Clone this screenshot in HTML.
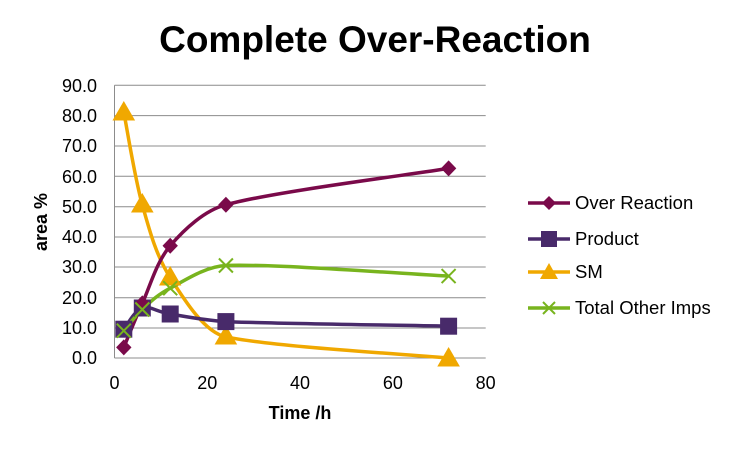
<!DOCTYPE html>
<html><head><style>body{margin:0;background:#fff}svg{display:block}</style></head><body>
<svg width="750" height="451" xmlns="http://www.w3.org/2000/svg" font-family="Liberation Sans, Arial, sans-serif">
<text x="375" y="52" font-size="37" font-weight="bold" text-anchor="middle">Complete Over-Reaction</text>
<g stroke="#8c8c8c" stroke-width="1">
<line x1="114.5" y1="85.3" x2="485.7" y2="85.3"/><line x1="114.5" y1="115.6" x2="485.7" y2="115.6"/><line x1="114.5" y1="146" x2="485.7" y2="146"/><line x1="114.5" y1="176.3" x2="485.7" y2="176.3"/><line x1="114.5" y1="206.7" x2="485.7" y2="206.7"/><line x1="114.5" y1="237" x2="485.7" y2="237"/><line x1="114.5" y1="267" x2="485.7" y2="267"/><line x1="114.5" y1="297.7" x2="485.7" y2="297.7"/><line x1="114.5" y1="328" x2="485.7" y2="328"/><line x1="114.5" y1="358" x2="485.7" y2="358"/>
<line x1="114.5" y1="85.3" x2="114.5" y2="358"/>
</g>
<g font-size="18" text-anchor="end">
<text x="97" y="92">90.0</text><text x="97" y="122">80.0</text><text x="97" y="152">70.0</text><text x="97" y="183">60.0</text><text x="97" y="213">50.0</text><text x="97" y="243">40.0</text><text x="97" y="273">30.0</text><text x="97" y="304">20.0</text><text x="97" y="334">10.0</text><text x="97" y="364">0.0</text>
</g>
<g font-size="18" text-anchor="middle">
<text x="114.5" y="389">0</text><text x="207.3" y="389">20</text><text x="300" y="389">40</text><text x="392.9" y="389">60</text><text x="485.7" y="389">80</text>
</g>
<text x="300" y="419" font-size="18" font-weight="bold" text-anchor="middle">Time /h</text>
<text transform="translate(47,222) rotate(-90)" font-size="18" font-weight="bold" text-anchor="middle">area %</text>
<g fill="none" stroke-width="3.5">
<path stroke="#f0a800" d="M123.8,112.3 C126.9,127.7 134.6,177.2 142.3,204.8 C150,232.4 156.3,255.6 170.2,277.6 C184.1,299.6 205,333 225.9,336.8 C272,346.8 411.5,354.5 448.6,358"/>
<path stroke="#482a6a" d="M123.8,329.2 C126.9,325.7 134.6,310.5 142.3,308 C150,305.5 156.3,311.7 170.2,314 C184.1,316.3 205,320.5 225.9,321.6 C272,323.6 411.5,325.4 448.6,326.2"/>
<path stroke="#7a0a4a" d="M123.8,347.4 C126.9,340.1 134.6,320.3 142.3,303.4 C150,286.5 156.3,262.2 170.2,245.8 C184.1,229.4 205,210 225.9,204.8 C272,191.9 411.5,174.5 448.6,168.4"/>
<path stroke="#78b41e" d="M123.8,330.7 C126.9,327.2 134.6,316.6 142.3,309.5 C150,302.4 156.3,295.5 170.2,288.2 C184.1,280.9 205,266.5 225.9,265.5 C272,263.5 411.5,274.3 448.6,276.1"/>
</g>
<g fill="#f0a800">
<polygon points="123.8,101 112.5,120.5 135.1,120.5"/><polygon points="142.3,193 131,212.5 153.6,212.5"/><polygon points="170.2,266 159,285.5 181.4,285.5"/><polygon points="225.9,325 214.6,344.5 237.2,344.5"/><polygon points="448.6,347 437.3,366.5 459.9,366.5"/>
</g>
<g fill="#482a6a">
<rect x="115.3" y="320.7" width="17" height="17"/><rect x="133.8" y="299.5" width="17" height="17"/><rect x="161.7" y="305.5" width="17" height="17"/><rect x="217.4" y="313.1" width="17" height="17"/><rect x="440.1" y="317.7" width="17" height="17"/>
</g>
<g fill="#7a0a4a">
<polygon points="123.8,339.4 131.5,347.4 123.8,355.4 116.1,347.4"/><polygon points="142.3,295.4 150,303.4 142.3,311.4 134.6,303.4"/><polygon points="170.2,237.8 177.9,245.8 170.2,253.8 162.5,245.8"/><polygon points="225.9,196.8 233.6,204.8 225.9,212.8 218.2,204.8"/><polygon points="448.6,160.4 456.3,168.4 448.6,176.4 440.9,168.4"/>
</g>
<g stroke="#78b41e" stroke-width="2">
<path d="M116.8,323.7 l14,14 m0,-14 l-14,14"/><path d="M135.3,302.5 l14,14 m0,-14 l-14,14"/><path d="M163.2,281.2 l14,14 m0,-14 l-14,14"/><path d="M218.9,258.5 l14,14 m0,-14 l-14,14"/><path d="M441.6,269.1 l14,14 m0,-14 l-14,14"/>
</g>
<g font-size="18.5">
<line x1="528" y1="203" x2="570" y2="203" stroke="#7a0a4a" stroke-width="3.5"/><polygon points="549,196 556,203 549,210 542,203" fill="#7a0a4a"/><text x="575" y="209">Over Reaction</text>
<line x1="528" y1="239" x2="570" y2="239" stroke="#482a6a" stroke-width="3.5"/><rect x="541" y="231" width="16" height="16" fill="#482a6a"/><text x="575" y="245">Product</text>
<line x1="528" y1="272" x2="570" y2="272" stroke="#f0a800" stroke-width="3.5"/><polygon points="549,263 540,279 558,279" fill="#f0a800"/><text x="575" y="278">SM</text>
<line x1="528" y1="308" x2="570" y2="308" stroke="#78b41e" stroke-width="3.5"/><path d="M543,302 l12,12 m0,-12 l-12,12" stroke="#78b41e" stroke-width="2"/><text x="575" y="314">Total Other Imps</text>
</g>
</svg>
</body></html>
